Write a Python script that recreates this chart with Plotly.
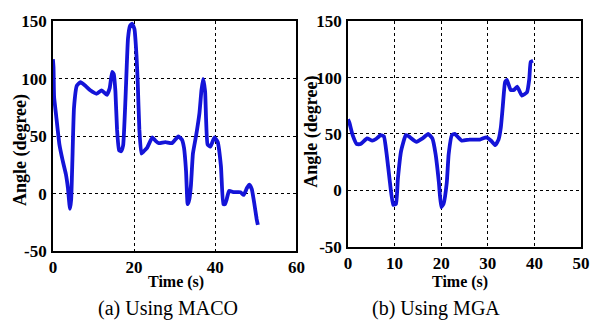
import plotly.graph_objects as go

# (a) Using MACO
maco_t = [0, 0.15, 0.3, 0.8, 1.6, 2.4, 3.2, 3.7, 4.2, 4.5, 4.8, 5.2, 5.9, 6.8, 8.0, 9.2, 10.8, 12.0, 13.3, 14.0,
          14.6, 15.0, 15.4, 15.8, 16.3, 16.8, 17.3, 17.9, 18.5, 19.0, 19.5, 20.1, 20.6, 20.9, 21.3, 21.8, 22.4,
          23.2, 24.5, 25.3, 26.1, 27.7, 29.3, 30.9, 31.8, 32.3, 32.8, 33.2, 33.6, 34.0, 34.5, 35.3, 36.1, 36.6,
          37.0, 37.5, 38.1, 38.8, 39.8, 40.6, 41.4, 42.0, 42.4, 42.8, 43.4, 44.6, 46.2, 47.0, 47.8, 48.4, 49.0,
          49.6, 50.2, 50.5]
maco_v = [117, 110, 84, 68, 43, 29, 17, 5, -13, -5, 29, 75, 94, 97, 94, 90, 87, 90, 86, 92,
          106, 104, 89, 56, 38, 37, 42, 84, 135, 146, 148, 143, 120, 97, 56, 35, 37,
          40, 49, 46, 44, 45, 44, 50, 47, 40, 20, -9, -5, 7, 35, 51, 70, 90,
          100, 89, 43, 41, 49, 45, 24, -9, -9, -5, 2.5, 1.4, 1.4, -1, 5, 8, 4,
          -8, -22, -27]

# (b) Using MGA
mga_t = [0, 0.3, 1.0, 1.9, 2.7, 4.1, 5.2, 6.0, 7.0, 7.7, 8.3, 9.0, 9.7, 10.3, 10.7, 11.4, 12.4, 13.0, 14.7,
         16.0, 17.2, 18.1, 18.8, 19.5, 20.0, 20.5, 21.2, 21.6, 22.3, 22.9, 24.4, 26.1, 28.3, 29.7, 30.7, 31.6,
         32.3, 32.8, 33.2, 33.7, 34.1, 34.9, 35.6, 36.3, 37.3, 38.4, 38.9, 39.2, 39.7]
mga_v = [63, 60, 49, 41, 41, 46, 44, 45.5, 49, 48, 32, 7, -13, -12, 10, 35, 49, 48, 43,
         46, 50, 46, 32, 7, -15, -12, 7, 32, 49, 50, 44, 45, 45, 47, 44, 40,
         45, 56, 74, 96, 98, 89, 89, 92, 84, 87, 99, 114, 115]

maco_xticks = [0, 20, 40, 60]
mga_xticks = [0, 10, 20, 30, 40, 50]
yticks = [-50, 0, 50, 100, 150]

x_title = "Time (s)"
y_title = "Angle (degree)"
captions = ["(a) Using MACO", "(b) Using MGA"]

W, H = 592, 333
BLUE = "#1414d8"
SERIF = "Times New Roman, Liberation Serif, serif"
tickfont = dict(family=SERIF, size=17, color="black")


def btext(vals):
    return ["<b>%s</b>" % v for v in vals]


fig = go.Figure()
fig.add_trace(go.Scatter(x=maco_t, y=maco_v, mode="lines",
                         line=dict(color=BLUE, width=3.8, shape="spline", smoothing=0.4),
                         xaxis="x", yaxis="y", showlegend=False))
fig.add_trace(go.Scatter(x=mga_t, y=mga_v, mode="lines",
                         line=dict(color=BLUE, width=3.8, shape="spline", smoothing=0.4),
                         xaxis="x2", yaxis="y2", showlegend=False))


def ax(**kw):
    d = dict(showline=True, linecolor="black", linewidth=1.5, mirror=True,
             showgrid=True, gridcolor="black", gridwidth=1, griddash="3px,3px",
             zeroline=False, ticks="", tickfont=tickfont, fixedrange=True)
    d.update(kw)
    return d


fig.update_layout(
    width=W, height=H, margin=dict(l=0, r=0, t=0, b=0),
    paper_bgcolor="white", plot_bgcolor="white",
    xaxis=ax(domain=[50 / W, 299 / W], range=[0, 60], tickvals=maco_xticks,
             ticktext=btext(maco_xticks), anchor="y"),
    yaxis=ax(domain=[(H - 257) / H, (H - 13) / H], range=[-50, 150], tickvals=yticks,
             ticktext=btext(yticks), anchor="x", ticklabelstandoff=1),
    xaxis2=ax(domain=[351.7 / W, 590 / W], range=[0, 50], tickvals=mga_xticks,
              ticktext=btext(mga_xticks), anchor="y2"),
    yaxis2=ax(domain=[(H - 252) / H, (H - 13) / H], range=[-50, 150], tickvals=yticks,
              ticktext=btext(yticks), anchor="x2", ticklabelstandoff=1),
)

bold = dict(family=SERIF, size=16, color="black")
ann = []


def a(x, y, text, font, angle=0):
    ann.append(dict(x=x / W, y=(H - y) / H, xref="paper", yref="paper", text=text, showarrow=False,
                    font=font, textangle=angle, xanchor="center", yanchor="middle"))


a(176, 290, "<b>%s</b>" % x_title, bold)
a(466, 290, "<b>%s</b>" % x_title, bold)
ytf = dict(bold, size=18)
a(17, 150, "<b>%s</b>" % y_title, ytf, -90)
a(314, 130, "<b>%s</b>" % y_title, ytf, -90)
capf = dict(family=SERIF, size=20, color="black")
a(168, 318, captions[0], capf)
a(442, 318, captions[1], capf)
fig.update_layout(annotations=ann)

fig.write_html("out.html", config={"displayModeBar": False},
               post_script="document.body.style.margin='0';")
